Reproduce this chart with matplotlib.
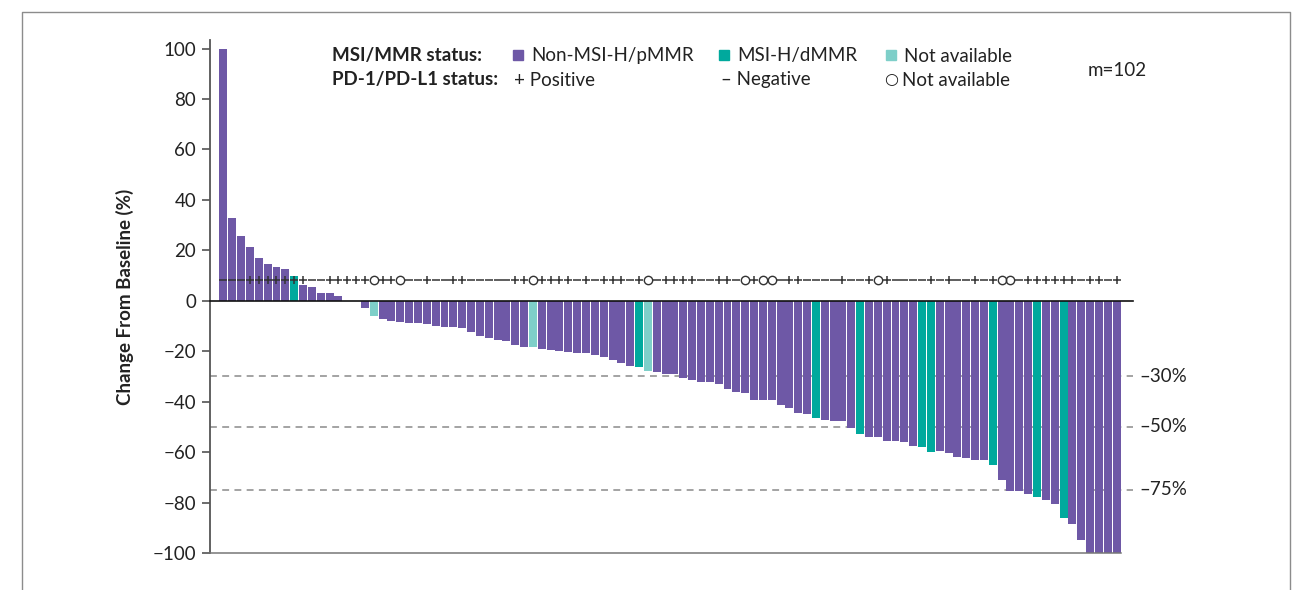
import matplotlib
matplotlib.use("Agg")
import matplotlib.pyplot as plt
from matplotlib.patches import Rectangle

plt.rcParams['font.family'] = ['Lato', 'DejaVu Sans']

# percent change from baseline, one bar per patient (sorted)
CHANGE = [100, 33, 25.5, 21.5, 17, 14.5, 13.5, 12.7, 10, 6.3,
          5.4, 3.1, 2.9, 2.0, 0, 0, -3, -6.2, -7.2, -7.9,
          -8.4, -9, -9, -9.1, -9.9, -10.3, -10.3, -10.7, -12.3, -13.9,
          -14.7, -15.5, -15.8, -17.4, -18.2, -18.2, -19, -19.4, -19.8, -20.2,
          -20.6, -20.6, -21.4, -22.2, -23.4, -24.6, -25.8, -26.2, -27.7, -28.1,
          -28.9, -28.9, -30.5, -31.3, -32.1, -32.1, -32.9, -34.9, -36, -36.4,
          -39.2, -39.2, -39.2, -41.2, -42.4, -44.4, -44.8, -46.4, -47.1, -47.5,
          -47.5, -50.4, -52.7, -53.9, -53.9, -55.4, -55.4, -55.8, -57.4, -57.8,
          -59.8, -59.4, -60.2, -61.8, -62.2, -63, -63, -65.3, -70.9, -75.5,
          -75.5, -76.7, -77.9, -79.1, -80.7, -86.2, -88.6, -94.9, -100, -100,
          -100, -100]

# MSI/MMR status: bars that are MSI-H/dMMR or not available (rest are pMMR)
DMMR_BARS = [8, 47, 67, 72, 79, 80, 87, 92, 95]
MSI_NA_BARS = [17, 35, 48]

# PD-1/PD-L1 status per bar: + positive, - negative, o not available
PD_STATUS = ("---+++++++" "--+++++o++o" "--+--++" "-----++o" "++++-+-+++"
             "-+o-++++" "--++-o+oo" "-++----+" "--+o+----" "+-+--+-+"
             "oo-++++++" "-++-+")

REF_LINES = [-30, -50, -75]
Y_TICKS = [100, 80, 60, 40, 20, 0, -20, -40, -60, -80, -100]

PURPLE = '#6E58A6'
TEAL = '#00A99D'
LIGHT_TEAL = '#7ECFC9'
TEXT = '#222222'
FS = 13.5


def main():
    fig = plt.figure(figsize=(13.07, 5.90), dpi=100)
    W, H = 1307.0, 590.0
    ax = fig.add_axes([210 / W, 1 - 553 / H, (1121 - 210) / W, (553 - 40) / H])

    n = len(CHANGE)
    x = list(range(n))
    colors = [PURPLE] * n
    for i in DMMR_BARS:
        colors[i] = TEAL
    for i in MSI_NA_BARS:
        colors[i] = LIGHT_TEAL
    ax.bar(x, CHANGE, width=0.9, color=colors, linewidth=0, zorder=2)

    x_left, x_right = -1.52, 102.9
    ax.set_xlim(x_left, 101.5)
    ax.set_ylim(-100, 103.4)

    # zero line and response thresholds
    ax.plot([x_left, x_right], [0, 0], color='#111111', lw=1.2,
            clip_on=False, zorder=3)
    for r in REF_LINES:
        ax.plot([x_left, x_right], [r, r], color='#8a8a8a', lw=1.1,
                linestyle=(0, (4.5, 3.5)), clip_on=False, zorder=1)
        ax.text(103.6, r, '\u2013%d%%' % abs(r), ha='left', va='center',
                fontsize=FS, color=TEXT)

    # PD-1/PD-L1 symbols row
    sym_y = 8.3
    pos = [i for i, s in enumerate(PD_STATUS) if s == '+']
    neg = [i for i, s in enumerate(PD_STATUS) if s == '-']
    na = [i for i, s in enumerate(PD_STATUS) if s == 'o']
    ax.plot(pos, [sym_y] * len(pos), ls='none', marker='+', ms=6.4,
            mew=1.1, color='#333333', zorder=4)
    ax.plot(neg, [sym_y] * len(neg), ls='none', marker='_', ms=5.8,
            mew=1.1, color='#333333', zorder=4)
    ax.plot(na, [sym_y] * len(na), ls='none', marker='o', ms=6.0,
            mew=1.0, mfc='none', mec='#333333', zorder=4)

    ax.set_yticks(Y_TICKS)
    ax.set_yticklabels([str(t).replace('-', '\u2212') for t in Y_TICKS])
    ax.set_xticks([])
    ax.tick_params(axis='y', direction='out', length=6, width=1.1,
                   colors='#444444', labelcolor=TEXT, labelsize=FS, pad=4)
    ax.spines['top'].set_visible(False)
    ax.spines['right'].set_visible(False)
    ax.spines['left'].set_color('#555555')
    ax.spines['left'].set_linewidth(1.3)
    ax.spines['bottom'].set_color('#777777')
    ax.spines['bottom'].set_linewidth(1.1)
    ax.set_ylabel('Change From Baseline (%)', fontsize=FS, fontweight='bold',
                  color=TEXT, labelpad=13)

    # legend block
    def fx(px):
        return px / W

    def fy(py):
        return 1 - py / H

    fig.text(fx(332), fy(56), 'MSI/MMR status:', fontsize=FS,
             fontweight='bold', color=TEXT, va='center')
    fig.text(fx(332), fy(80), 'PD-1/PD-L1 status:', fontsize=FS,
             fontweight='bold', color=TEXT, va='center')
    for sx, col, label in [(513, PURPLE, 'Non-MSI-H/pMMR'),
                           (719, TEAL, 'MSI-H/dMMR'),
                           (886, LIGHT_TEAL, 'Not available')]:
        fig.patches.append(Rectangle((fx(sx), fy(60)), 10 / W, 10 / H,
                                     transform=fig.transFigure,
                                     color=col, figure=fig))
        fig.text(fx(sx + 18), fy(56), label, fontsize=FS, color=TEXT,
                 va='center')
    fig.text(fx(514), fy(80), '+ Positive', fontsize=FS, color=TEXT,
             va='center')
    fig.text(fx(721), fy(80), '\u2013 Negative', fontsize=FS, color=TEXT,
             va='center')
    fig.text(fx(884), fy(79), '\u25cb', fontsize=11.5, color=TEXT,
             va='center', family=['DejaVu Sans'])
    fig.text(fx(902), fy(80), 'Not available', fontsize=FS, color=TEXT,
             va='center')
    fig.text(fx(1088), fy(70), 'm=102', fontsize=FS, color=TEXT,
             va='center')

    # outer panel frame
    fig.lines.append(plt.Line2D([fx(22), fx(22), fx(1290), fx(1290)],
                                [0, fy(12), fy(12), 0],
                                transform=fig.transFigure, color='#8c8c8c',
                                lw=1.0))

    fig.savefig('out.png', dpi=100)


if __name__ == '__main__':
    main()
